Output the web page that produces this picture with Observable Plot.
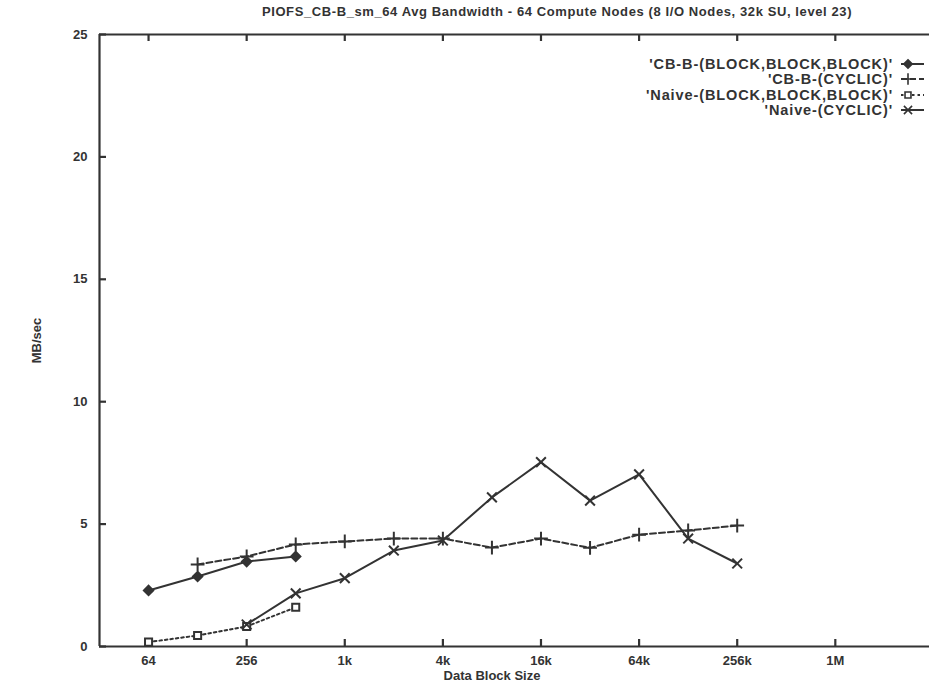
<!DOCTYPE html>
<html>
<head>
<meta charset="utf-8">
<script src="https://cdn.jsdelivr.net/npm/d3@7"></script>
<script src="https://cdn.jsdelivr.net/npm/@observablehq/plot@0.6"></script>
<style>
  body { margin: 0; background: #fff; }
  #wrap { position: relative; width: 929px; height: 684px; overflow: hidden; font-family: "Liberation Sans", Arial, sans-serif; color: #333; font-weight: bold; }
  #title { position: absolute; top: 4px; left: 557px; transform: translateX(-50%); white-space: nowrap; font-size: 13px; letter-spacing: 0.6px; }
  #xlabel { position: absolute; top: 668px; left: 492px; transform: translateX(-50%); white-space: nowrap; font-size: 13px; }
  #legend { position: absolute; top: 56px; right: 4px; font-size: 14.5px; letter-spacing: 0.9px; }
  #legend .row { display: flex; justify-content: flex-end; align-items: center; height: 15.5px; }
  #legend svg { margin-left: 6px; }
  #chart svg { display: block; }
</style>
</head>
<body>
<div id="wrap">
  <div id="chart"></div>
  <div id="title">PIOFS_CB-B_sm_64 Avg Bandwidth - 64 Compute Nodes (8 I/O Nodes, 32k SU, level 23)</div>
  <div id="xlabel">Data Block Size</div>
  <div id="legend"></div>
</div>
<script>
// Block sizes (bytes)
const sizes = [64, 128, 256, 512, 1024, 2048, 4096, 8192, 16384, 32768, 65536, 131072, 262144];
// Series values (MB/sec); null = no measurement
const cbBlock     = [2.29, 2.86, 3.47, 3.68, null, null, null, null, null, null, null, null, null];
const cbCyclic    = [null, 3.35, 3.68, 4.17, 4.29, 4.41, 4.41, 4.04, 4.41, 4.03, 4.57, 4.74, 4.94];
const naiveBlock  = [0.18, 0.45, 0.82, 1.60, null, null, null, null, null, null, null, null, null];
const naiveCyclic = [null, null, 0.90, 2.17, 2.79, 3.92, 4.33, 6.09, 7.53, 5.96, 7.03, 4.41, 3.39];

const seriesNames = ["'CB-B-(BLOCK,BLOCK,BLOCK)'", "'CB-B-(CYCLIC)'", "'Naive-(BLOCK,BLOCK,BLOCK)'", "'Naive-(CYCLIC)'"];
const seriesValues = [cbBlock, cbCyclic, naiveBlock, naiveCyclic];
const seriesSymbols = ["diamond2", "plus", "square2", "times"];
const seriesDash = [null, "6,3", "2.5,3", null];

const xTicks = [64, 256, 1024, 4096, 16384, 65536, 262144, 1048576];
const xTickLabels = ["64", "256", "1k", "4k", "16k", "64k", "256k", "1M"];
const yTicks = [0, 5, 10, 15, 20, 25];

const ink = "#333";
const W = 929, H = 684, mL = 99, mR = 0, mT = 34, mB = 38;
const xDomain = [32, 2 ** 21.92];
const yDomain = [0, 25];
const tickPx = 7;
// tick lengths converted to data units so the ticks point inward
const tickYUnits = (yDomain[1] - yDomain[0]) * tickPx / (H - mT - mB);
const tickXFactor = 2 ** (Math.log2(xDomain[1] / xDomain[0]) * tickPx / (W - mL - mR));

const data = seriesNames.map((name, i) =>
  sizes.map((s, j) => ({series: name, size: s, value: seriesValues[i][j]})).filter(d => d.value != null)
);

const marks = [];
data.forEach((rows, i) => {
  const sym = seriesSymbols[i];
  marks.push(Plot.line(rows, {x: "size", y: "value", stroke: ink, strokeWidth: 2, strokeDasharray: seriesDash[i]}));
  marks.push(Plot.dot(rows, {x: "size", y: "value", symbol: () => sym, r: sym === "diamond2" ? 4.2 : 4.5,
    fill: sym === "diamond2" ? ink : "white", stroke: ink, strokeWidth: 2}));
});

const chart = Plot.plot({
  width: W,
  height: H,
  marginLeft: mL,
  marginRight: mR,
  marginTop: mT,
  marginBottom: mB,
  style: {fontFamily: "Liberation Sans, Arial, sans-serif", fontSize: "13px", fontWeight: "bold", color: "#333"},
  symbol: {type: "identity"},
  x: {type: "log", base: 2, domain: xDomain},
  y: {domain: yDomain},
  marks: [
    Plot.ruleY(yDomain, {stroke: ink, strokeWidth: 2.2}),
    Plot.ruleX([xDomain[0]], {stroke: ink, strokeWidth: 2.2}),
    // inward ticks
    Plot.ruleX(xTicks, {x: d => d, y1: yDomain[0], y2: yDomain[0] + tickYUnits, stroke: ink, strokeWidth: 2.2}),
    Plot.ruleX(xTicks, {x: d => d, y1: yDomain[1] - tickYUnits, y2: yDomain[1], stroke: ink, strokeWidth: 2.2}),
    Plot.ruleY(yTicks, {y: d => d, x1: xDomain[0], x2: xDomain[0] * tickXFactor, stroke: ink, strokeWidth: 2.2}),
    Plot.axisX({ticks: xTicks, tickFormat: (d) => xTickLabels[xTicks.indexOf(d)], tickSize: 0, tickPadding: 9, label: null}),
    Plot.axisY({ticks: yTicks, tickSize: 0, tickPadding: 12, label: "MB/sec", labelAnchor: "center", labelArrow: "none", labelOffset: 68}),
    ...marks
  ]
});
document.getElementById("chart").appendChild(chart);

// Legend
const symMap = {diamond2: d3.symbolDiamond2, plus: d3.symbolPlus, square2: d3.symbolSquare2, times: d3.symbolTimes};
const legend = d3.select("#legend");
seriesNames.forEach((name, i) => {
  const sym = seriesSymbols[i];
  const row = legend.append("div").attr("class", "row");
  row.append("span").text(name);
  const svg = row.append("svg").attr("width", 26).attr("height", 12);
  svg.append("line").attr("x1", 2).attr("x2", 25).attr("y1", 6).attr("y2", 6)
    .attr("stroke", ink).attr("stroke-width", 2).attr("stroke-dasharray", seriesDash[i]);
  svg.append("path").attr("transform", "translate(9,6)")
    .attr("d", d3.symbol(symMap[sym], 45)())
    .attr("fill", sym === "diamond2" ? ink : "white").attr("stroke", ink).attr("stroke-width", 1.6);
});
</script>
</body>
</html>
